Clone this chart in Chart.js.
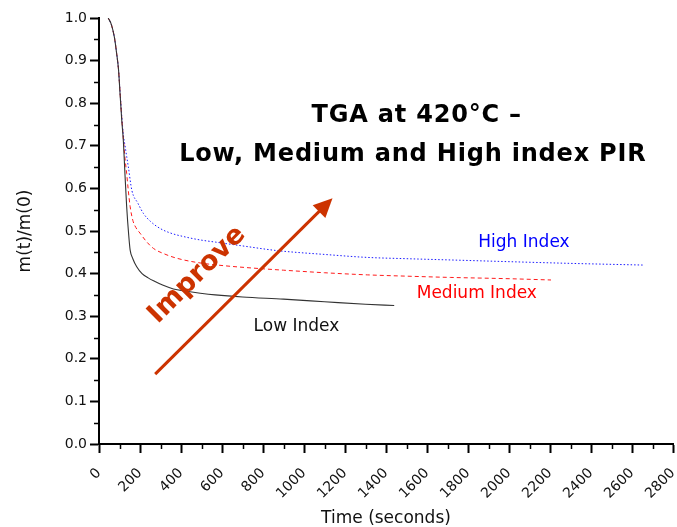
<!DOCTYPE html>
<html><head><meta charset="utf-8">
<script src="https://cdn.jsdelivr.net/npm/chart.js@4.4.1/dist/chart.umd.min.js"></script>
<style>html,body{margin:0;padding:0;background:#fff;} canvas{display:block;}</style>
</head><body>
<canvas id="c" width="677" height="527"></canvas>
<script>
// ---- data ----
const lowTime  = [45,60,75,86,95,103,111,119,127,135,145,152,165,184,210,240,266,310,363,420,494,567,700,900,1100,1300,1440];
const lowMass  = [1.0,0.985,0.955,0.917,0.88,0.82,0.76,0.71,0.63,0.557,0.49,0.455,0.435,0.416,0.400,0.390,0.383,0.373,0.364,0.359,0.354,0.350,0.345,0.340,0.334,0.328,0.325];
const medTime  = [45,60,75,86,95,103,111,119,127,135,143,152,165,180,200,230,266,320,380,480,600,750,900,1100,1310,1500,1716,2000,2205];
const medMass  = [1.0,0.985,0.955,0.917,0.88,0.823,0.765,0.715,0.67,0.635,0.595,0.557,0.525,0.508,0.495,0.476,0.459,0.446,0.436,0.426,0.419,0.413,0.408,0.402,0.397,0.394,0.391,0.388,0.385];
const highTime = [45,60,75,86,95,103,111,119,127,135,143,160,190,217,250,298,350,412,494,567,700,869,1100,1309,1500,1716,2000,2300,2660];
const highMass = [1.0,0.985,0.955,0.917,0.88,0.825,0.77,0.725,0.70,0.675,0.651,0.596,0.565,0.541,0.523,0.506,0.495,0.487,0.479,0.474,0.465,0.454,0.445,0.438,0.435,0.432,0.428,0.424,0.420];
const seriesNames = ['Low Index','Medium Index','High Index'];
const xTicks = [0,200,400,600,800,1000,1200,1400,1600,1800,2000,2200,2400,2600,2800];
const yTicks = [0.0,0.1,0.2,0.3,0.4,0.5,0.6,0.7,0.8,0.9,1.0];
const xMinor = [100,300,500,700,900,1100,1300,1500,1700,1900,2100,2300,2500,2700];
const yMinor = [0.05,0.15,0.25,0.35,0.45,0.55,0.65,0.75,0.85,0.95];
const titleLines = ['TGA at 420°C –','Low, Medium and High index PIR'];
const improveText = 'Improve';

const toPts = (t,m) => t.map((v,i)=>({x:v,y:m[i]}));
Chart.defaults.font.family = 'DejaVu Sans';
Chart.defaults.color = '#111';

const overlay = {
  id:'overlay',
  afterDraw(chart){
    const {ctx, scales:{x,y}} = chart;
    const P = (t,v)=>[x.getPixelForValue(t), y.getPixelForValue(v)];
    ctx.save();
    // minor ticks
    ctx.strokeStyle='#000'; ctx.lineWidth=1.5;
    xMinor.forEach(v=>{const px=Math.round(x.getPixelForValue(v))+0.5; ctx.beginPath(); ctx.moveTo(px, y.bottom); ctx.lineTo(px, y.bottom+5); ctx.stroke();});
    yMinor.forEach(v=>{const py=Math.round(y.getPixelForValue(v))+0.5; ctx.beginPath(); ctx.moveTo(x.left, py); ctx.lineTo(x.left-5, py); ctx.stroke();});
    // title
    ctx.fillStyle='#000'; ctx.textAlign='center'; ctx.textBaseline='middle';
    ctx.font='bold 24px "DejaVu Sans"';
    try{ctx.letterSpacing='0.8px';}catch(e){}
    let p=P(1550,0.770); ctx.fillText(titleLines[0],p[0],p[1]);
    p=P(1531,0.680); ctx.fillText(titleLines[1],p[0],p[1]);
    try{ctx.letterSpacing='0px';}catch(e){}
    // series labels
    ctx.font='17px "DejaVu Sans"';
    ctx.fillStyle='#0000ff'; p=P(2073,0.472); ctx.fillText(seriesNames[2],p[0],p[1]);
    ctx.fillStyle='#ff0000'; p=P(1843,0.352); ctx.fillText(seriesNames[1],p[0],p[1]);
    ctx.fillStyle='#111'; p=P(963,0.276); ctx.fillText(seriesNames[0],p[0],p[1]);
    // arrow
    const a=P(274,0.164), b=P(1139,0.577);
    const ang=Math.atan2(b[1]-a[1], b[0]-a[0]);
    const L=19, W=9;
    ctx.strokeStyle='#cc3300'; ctx.fillStyle='#cc3300'; ctx.lineWidth=3;
    ctx.beginPath(); ctx.moveTo(a[0],a[1]);
    ctx.lineTo(b[0]-Math.cos(ang)*L*0.8, b[1]-Math.sin(ang)*L*0.8); ctx.stroke();
    ctx.beginPath(); ctx.moveTo(b[0],b[1]);
    ctx.lineTo(b[0]-Math.cos(ang)*L - Math.sin(ang)*W, b[1]-Math.sin(ang)*L + Math.cos(ang)*W);
    ctx.lineTo(b[0]-Math.cos(ang)*L + Math.sin(ang)*W, b[1]-Math.sin(ang)*L - Math.cos(ang)*W);
    ctx.closePath(); ctx.fill();
    // Improve
    p=P(479,0.397);
    ctx.translate(p[0],p[1]); ctx.rotate(-Math.PI/4);
    ctx.font='bold 27px "DejaVu Sans"'; ctx.fillStyle='#cc3300';
    ctx.fillText(improveText,0,0);
    ctx.restore();
  }
};

new Chart(document.getElementById('c'), {
  type:'line',
  data:{datasets:[
    {label:seriesNames[0], data:toPts(lowTime,lowMass), borderColor:'#333333', borderWidth:1.1, pointRadius:0, cubicInterpolationMode:'monotone', fill:false},
    {label:seriesNames[1], data:toPts(medTime,medMass), borderColor:'#ff1a1a', borderWidth:1, borderDash:[4,3], pointRadius:0, cubicInterpolationMode:'monotone', fill:false},
    {label:seriesNames[2], data:toPts(highTime,highMass), borderColor:'#1a1aff', borderWidth:1, borderDash:[1.5,2], pointRadius:0, cubicInterpolationMode:'monotone', fill:false}
  ]},
  options:{
    responsive:false, animation:false, devicePixelRatio:1,
    layout:{padding:{left:0,right:4,top:18,bottom:0}},
    plugins:{legend:{display:false}, tooltip:{enabled:false}},
    scales:{
      x:{type:'linear', min:0, max:2800,
        afterBuildTicks:s=>{s.ticks=xTicks.map(v=>({value:v}));},
        afterFit:s=>{s.height=83; s.paddingLeft=0; s.paddingRight=0;},
        ticks:{minRotation:45,maxRotation:45,autoSkip:false,padding:12,font:{size:14},color:'#111',callback:v=>String(v)},
        grid:{drawOnChartArea:false,drawTicks:true,tickLength:9,tickWidth:2,tickColor:'#000'},
        border:{display:true,color:'#000',width:2},
        title:{display:true,text:'Time (seconds)',font:{size:17,lineHeight:1},padding:{top:0,bottom:0},color:'#111'}
      },
      y:{type:'linear', min:0, max:1.0,
        afterBuildTicks:s=>{s.ticks=yTicks.map(v=>({value:v}));},
        afterFit:s=>{s.width=99; s.paddingTop=0; s.paddingBottom=0;},
        ticks:{padding:3,font:{size:14},color:'#111',callback:v=>Number(v).toFixed(1)},
        grid:{drawOnChartArea:false,drawTicks:true,tickLength:9,tickWidth:2,tickColor:'#000'},
        border:{display:true,color:'#000',width:2},
        title:{display:true,text:'m(t)/m(0)',font:{size:17},padding:{top:15,bottom:0},color:'#111'}
      }
    }
  },
  plugins:[overlay]
});
</script>
</body></html>
